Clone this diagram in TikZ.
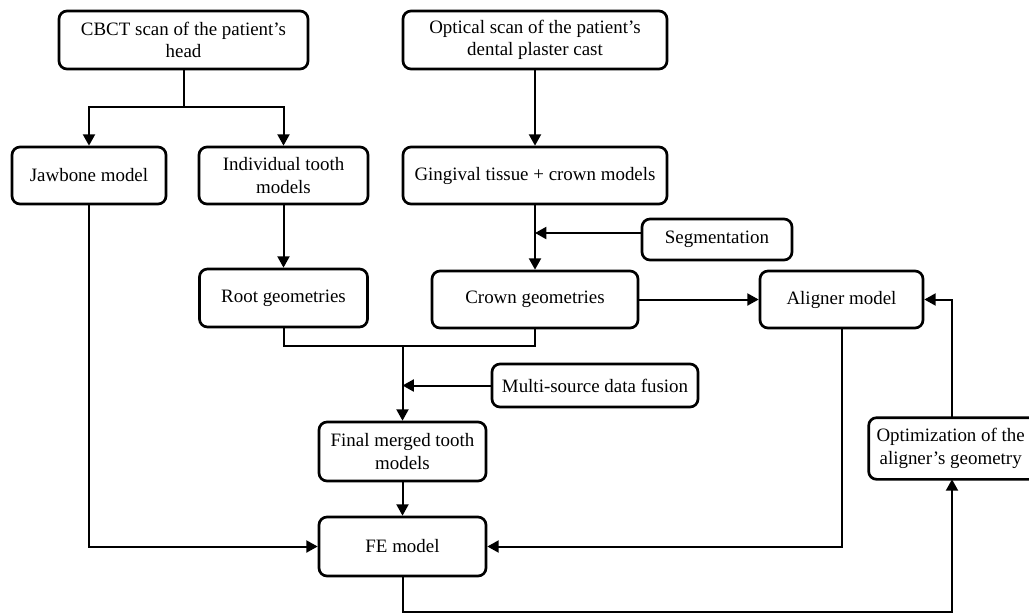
\documentclass[tikz,border=0pt]{standalone}
\usepackage{fontspec}
\setmainfont{Liberation Serif}
\usetikzlibrary{arrows.meta}
\begin{document}
\begin{tikzpicture}[x=0.75pt,y=-0.75pt,
  boxline/.style={line width=2pt, rounded corners=6pt},
  box/.style 2 args={draw, boxline, align=center, inner sep=0pt,
    minimum width=#1*0.75pt, minimum height=#2*0.75pt, font=\fontsize{14.2}{17}\selectfont},
  conn/.style={line width=1.5pt},
  arr/.style={conn, -{Triangle[length=8.5pt,width=9pt]}}]
\useasboundingbox (0,0) rectangle (1029,615);
\clip (0,0) rectangle (1029,615);
\node[box={249}{58}] (cbct) at (183.5,40) {CBCT scan of the patient's\\head};
\node[box={264}{58}] (opt) at (535,40) {Optical scan of the patient's\\dental plaster cast};
\node[box={154}{57}] (jaw) at (89,175.5) {Jawbone model};
\node[box={169}{57}] (ind) at (283.5,175.5) {Individual tooth\\models};
\node[box={264}{57}] (ging) at (535,175.5) {Gingival tissue + crown models};
\node[box={150}{41}] (seg) at (717,239.5) {Segmentation};
\node[box={168}{58}] (root) at (283.5,298) {Root geometries};
\node[box={206}{57}] (crown) at (535,299.5) {Crown geometries};
\node[box={163}{57}] (align) at (841.5,299.5) {Aligner model};
\node[box={206}{43}] (multi) at (595,385.5) {Multi-source data fusion};
\node[box={167}{59}] (final) at (402.5,451.5) {Final merged tooth\\models};
\node[box={167}{59}] (fe) at (402.5,546.5) {FE model};
\node[box={180}{59}, draw=none] (optim) at (960,448.5) {\hspace*{-14pt}Optimization of the\\\hspace*{-14pt}aligner's geometry};
\draw[boxline] ([xshift=40pt]optim.north east) -- (optim.north west) -- (optim.south west) -- ([xshift=40pt]optim.south east);

\coordinate (split) at (183.5,107);
\coordinate (segj) at (535,233);
\coordinate (merge) at (402.5,346);
\coordinate (bot) at (402.5,612);
\coordinate (ox) at (952,0);

\draw[conn] (cbct.south) -- (split);
\draw[arr] (split) -| (jaw.north);
\draw[arr] (split) -| (ind.north);
\draw[arr] (opt.south) -- (ging.north);
\draw[arr] (ind.south) -- (root.north);
\draw[arr] (ging.south) -- (crown.north);
\draw[arr] (seg.west |- segj) -- (segj);
\draw[arr] (crown.east) -- (align.west);
\draw[conn] (root.south) |- (merge) -| (crown.south);
\draw[arr] (merge) -- (final.north);
\draw[arr] (multi.west) -- (multi.west -| final.north);
\draw[arr] (final.south) -- (fe.north);
\draw[arr] (jaw.south) |- (fe.west);
\draw[arr] (align.south) |- (fe.east);
\draw[arr] (fe.south) -- (bot) -| (optim.south -| ox);
\draw[arr] (optim.north -| ox) |- (align.east);
\end{tikzpicture}
\end{document}
